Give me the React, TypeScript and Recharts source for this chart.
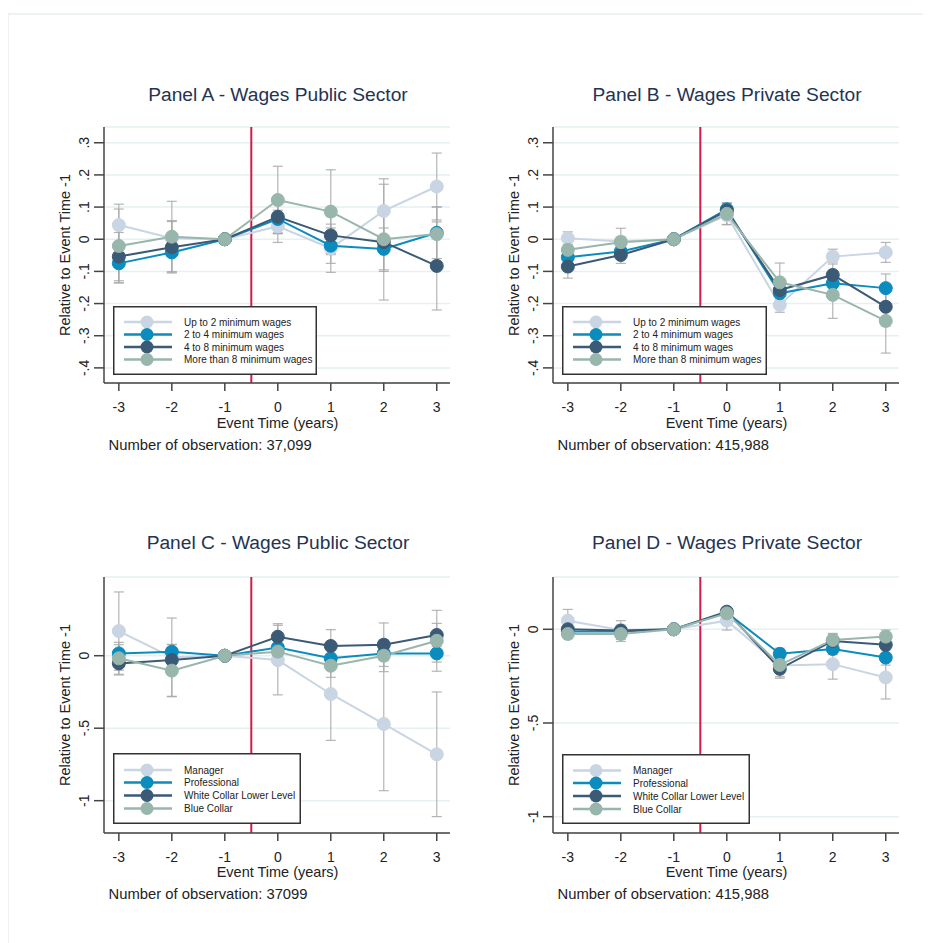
import React from 'react';
import { LineChart, Line, XAxis, YAxis, CartesianGrid, ReferenceLine, ErrorBar, Legend } from 'recharts';

// ---------- data ----------
const eventTimes = [-3, -2, -1, 0, 1, 2, 3];
const xTicks = [-3, -2, -1, 0, 1, 2, 3];
const wageTicks = [0.3, 0.2, 0.1, 0, -0.1, -0.2, -0.3, -0.4];
const occTicks = [0, -0.5, -1];

const wageGroups = ['Up to 2 minimum wages', '2 to 4 minimum wages', '4 to 8 minimum wages', 'More than 8 minimum wages'];
const occGroups = ['Manager', 'Professional', 'White Collar Lower Level', 'Blue Collar'];
const seriesColors = ['#c9d5e2', '#0b8cbf', '#3b5a75', '#98b6ac'];

const panelTitles = ['Panel A - Wages Public Sector', 'Panel B - Wages Private Sector', 'Panel C - Wages Public Sector', 'Panel D - Wages Private Sector'];
const obsNotes = ['Number of observation: 37,099', 'Number of observation: 415,988', 'Number of observation: 37099', 'Number of observation: 415,988'];

// Panel A
const aUpTo2 = [0.044, 0.003, 0, 0.040, -0.028, 0.088, 0.164];
const a2to4 = [-0.075, -0.041, 0, 0.063, -0.020, -0.030, 0.020];
const a4to8 = [-0.054, -0.025, 0, 0.070, 0.012, -0.009, -0.083];
const aMore8 = [-0.021, 0.008, 0, 0.122, 0.086, 0.000, 0.016];
const aUpTo2Ci = [0.065, 0.055, 0, 0.050, 0.075, 0.100, 0.104];
const a2to4Ci = [0.060, 0.060, 0, 0.045, 0.055, 0.065, 0.080];
const a4to8Ci = [0.075, 0.080, 0, 0.050, 0.060, 0.180, 0.137];
const aMore8Ci = [0.115, 0.110, 0, 0.105, 0.130, 0.100, 0.085];

// Panel B
const bUpTo2 = [0.003, -0.007, 0, 0.075, -0.204, -0.054, -0.041];
const b2to4 = [-0.056, -0.038, 0, 0.093, -0.168, -0.137, -0.152];
const b4to8 = [-0.085, -0.049, 0, 0.089, -0.158, -0.111, -0.210];
const bMore8 = [-0.033, -0.009, 0, 0.079, -0.134, -0.173, -0.254];
const bUpTo2Ci = [0.020, 0.015, 0, 0.030, 0.023, 0.023, 0.031];
const b2to4Ci = [0.020, 0.020, 0, 0.020, 0.030, 0.030, 0.044];
const b4to8Ci = [0.036, 0.026, 0, 0.023, 0.030, 0.040, 0.060];
const bMore8Ci = [0.030, 0.043, 0, 0.033, 0.060, 0.073, 0.100];

// Panel C
const cManager = [0.170, -0.010, 0, -0.030, -0.264, -0.471, -0.680];
const cProfessional = [0.016, 0.028, 0, 0.057, -0.018, 0.016, 0.016];
const cWhiteCollar = [-0.053, -0.030, 0, 0.131, 0.067, 0.076, 0.143];
const cBlueCollar = [-0.018, -0.103, 0, 0.028, -0.069, 0.000, 0.103];
const cManagerCi = [0.270, 0.270, 0, 0.240, 0.320, 0.460, 0.430];
const cProfessionalCi = [0.060, 0.050, 0, 0.050, 0.060, 0.050, 0.060];
const cWhiteCollarCi = [0.080, 0.070, 0, 0.090, 0.113, 0.150, 0.080];
const cBlueCollarCi = [0.110, 0.180, 0, 0.080, 0.080, 0.110, 0.210];

// Panel D
const dManager = [0.046, -0.004, 0, 0.046, -0.193, -0.186, -0.257];
const dProfessional = [-0.012, -0.012, 0, 0.089, -0.131, -0.105, -0.151];
const dWhiteCollar = [0.000, -0.007, 0, 0.094, -0.211, -0.062, -0.083];
const dBlueCollar = [-0.025, -0.025, 0, 0.085, -0.190, -0.057, -0.039];
const dManagerCi = [0.060, 0.050, 0, 0.050, 0.060, 0.080, 0.115];
const dProfessionalCi = [0.020, 0.020, 0, 0.015, 0.030, 0.030, 0.040];
const dWhiteCollarCi = [0.025, 0.030, 0, 0.020, 0.050, 0.040, 0.050];
const dBlueCollarCi = [0.025, 0.040, 0, 0.020, 0.040, 0.030, 0.035];

// ---------- styling ----------
const FONT = '"Liberation Sans", Arial, Helvetica, sans-serif';
const AXIS_COLOR = '#454545';
const TEXT_COLOR = '#222';

function stataLabel(v: number): string {
  if (v === 0) return '0';
  const abs = Math.abs(v);
  const s = abs < 1 ? String(abs).replace(/^0/, '') : String(abs);
  return (v < 0 ? '-' : '') + s;
}

const YTick = (props: any) => {
  const { x, y, payload } = props;
  const cx = x - 8;
  return (
    <text
      x={cx}
      y={y}
      transform={`rotate(-90 ${cx} ${y})`}
      textAnchor="middle"
      dominantBaseline="central"
      fontSize={14}
      fill={TEXT_COLOR}
      fontFamily={FONT}
    >
      {stataLabel(payload.value)}
    </text>
  );
};

type LegendSpec = { top: number; w: number; h: number; rows: number[] };

const LegendBox = ({ names, spec }: { names: string[]; spec: LegendSpec }) => (
  <svg width={spec.w} height={spec.h} style={{ display: 'block' }}>
    <rect x={0.75} y={0.75} width={spec.w - 1.5} height={spec.h - 1.5} fill="#fff" stroke="#333" strokeWidth={1.5} />
    {names.map((n, i) => (
      <g key={n}>
        <line x1={11} x2={59} y1={spec.rows[i]} y2={spec.rows[i]} stroke={seriesColors[i]} strokeWidth={2.5} />
        <circle cx={34} cy={spec.rows[i]} r={6.5} fill={seriesColors[i]} />
        <text x={71} y={spec.rows[i] + 3.6} fontSize={10} fill={TEXT_COLOR} fontFamily={FONT}>
          {n}
        </text>
      </g>
    ))}
  </svg>
);

type PanelProps = {
  left: number;
  top: number;
  series: number[][];
  cis: number[][];
  names: string[];
  yDomain: [number, number];
  yTicks: number[];
  legend: LegendSpec;
};

function Panel({ left, top, series, cis, names, yDomain, yTicks, legend }: PanelProps) {
  const data = eventTimes.map((t, i) => {
    const row: any = { t };
    series.forEach((s, k) => {
      row['v' + k] = s[i];
      row['e' + k] = cis[k][i];
    });
    return row;
  });
  return (
    <div style={{ position: 'absolute', left, top }}>
      <LineChart width={430} height={350} data={data} margin={{ top: 17, right: 20, bottom: 0, left: 0 }}>
        <CartesianGrid horizontal vertical={false} stroke="#e6eff1" strokeWidth={1.5} />
        <XAxis
          dataKey="t"
          type="number"
          domain={[-3.28, 3.25]}
          ticks={xTicks}
          allowDataOverflow
          interval={0}
          height={77}
          tickSize={8}
          tickMargin={11}
          stroke={AXIS_COLOR}
          strokeWidth={1.5}
          tick={{ fontSize: 14, fill: TEXT_COLOR, fontFamily: FONT }}
        />
        <YAxis
          type="number"
          domain={yDomain}
          ticks={yTicks}
          allowDataOverflow
          interval={0}
          width={64}
          tickSize={10}
          tickMargin={2}
          stroke={AXIS_COLOR}
          strokeWidth={1.5}
          tick={<YTick />}
        />
        <ReferenceLine x={-0.5} stroke="#d11b4b" strokeWidth={2} />
        {series.map((_, k) => (
          <Line
            key={'err' + k}
            dataKey={'v' + k}
            stroke="none"
            dot={false}
            activeDot={false}
            legendType="none"
            isAnimationActive={false}
          >
            <ErrorBar dataKey={'e' + k} width={5} stroke="#a8a8a8" strokeWidth={1.2} strokeOpacity={0.85} direction="y" />
          </Line>
        ))}
        {series.map((_, k) => (
          <Line
            key={'line' + k}
            dataKey={'v' + k}
            name={names[k]}
            stroke={seriesColors[k]}
            strokeWidth={2}
            dot={{ r: 6.5, fill: seriesColors[k], stroke: seriesColors[k], strokeWidth: 1 }}
            activeDot={false}
            isAnimationActive={false}
          />
        ))}
        <Legend
          layout="horizontal"
          verticalAlign="middle"
          align="center"
          wrapperStyle={{ left: 73, top: legend.top, width: legend.w, height: legend.h }}
          content={() => <LegendBox names={names} spec={legend} />}
        />
      </LineChart>
    </div>
  );
}

const panelOrigins = [
  { left: 40, top: 110 },
  { left: 489, top: 110 },
  { left: 40, top: 560 },
  { left: 489, top: 560 },
];

export default function App() {
  const rowShift = 448.5;
  const colShift = 449;
  return (
    <div style={{ position: 'relative', width: 931, height: 943, marginLeft: -8, marginTop: -8, background: '#fff', fontFamily: FONT }}>
      <svg width={931} height={943} style={{ position: 'absolute', left: 0, top: 0 }}>
        <line x1={7} x2={931} y1={14} y2={14} stroke="#edf2f4" strokeWidth={2} />
        <line x1={8} x2={8} y1={14} y2={943} stroke="#edf2f4" strokeWidth={2} />
        {[0, 1, 2, 3].map((p) => {
          const dx = (p % 2) * colShift;
          const dy = Math.floor(p / 2) * rowShift;
          const yc = 255 + Math.floor(p / 2) * 450;
          return (
            <g key={p}>
              <text x={278 + dx} y={100.6 + dy} textAnchor="middle" fontSize={19.2} fill="#243352" fontFamily={FONT}>
                {panelTitles[p]}
              </text>
              <text x={277.5 + dx} y={428 + dy} textAnchor="middle" fontSize={14.5} fill={TEXT_COLOR} fontFamily={FONT}>
                Event Time (years)
              </text>
              <text x={108.5 + dx} y={450 + dy} fontSize={14.8} fill={TEXT_COLOR} fontFamily={FONT}>
                {obsNotes[p]}
              </text>
              <text
                x={70 + dx}
                y={yc}
                transform={`rotate(-90 ${70 + dx} ${yc})`}
                textAnchor="middle"
                fontSize={14.5}
                fill={TEXT_COLOR}
                fontFamily={FONT}
              >
                Relative to Event Time -1
              </text>
            </g>
          );
        })}
      </svg>
      <Panel
        {...panelOrigins[0]}
        series={[aUpTo2, a2to4, a4to8, aMore8]}
        cis={[aUpTo2Ci, a2to4Ci, a4to8Ci, aMore8Ci]}
        names={wageGroups}
        yDomain={[-0.447, 0.349]}
        yTicks={wageTicks}
        legend={{ top: 196, w: 204, h: 69, rows: [16, 28.5, 41, 53.5] }}
      />
      <Panel
        {...panelOrigins[1]}
        series={[bUpTo2, b2to4, b4to8, bMore8]}
        cis={[bUpTo2Ci, b2to4Ci, b4to8Ci, bMore8Ci]}
        names={wageGroups}
        yDomain={[-0.447, 0.349]}
        yTicks={wageTicks}
        legend={{ top: 196, w: 205, h: 69, rows: [16, 28.5, 41, 53.5] }}
      />
      <Panel
        {...panelOrigins[2]}
        series={[cManager, cProfessional, cWhiteCollar, cBlueCollar]}
        cis={[cManagerCi, cProfessionalCi, cWhiteCollarCi, cBlueCollarCi]}
        names={occGroups}
        yDomain={[-1.223, 0.543]}
        yTicks={occTicks}
        legend={{ top: 193, w: 188, h: 71, rows: [17, 29.5, 42.5, 55.5] }}
      />
      <Panel
        {...panelOrigins[3]}
        series={[dManager, dProfessional, dWhiteCollar, dBlueCollar]}
        cis={[dManagerCi, dProfessionalCi, dWhiteCollarCi, dBlueCollarCi]}
        names={occGroups}
        yDomain={[-1.087, 0.279]}
        yTicks={occTicks}
        legend={{ top: 194, w: 188, h: 70, rows: [16.5, 29, 42, 55] }}
      />
    </div>
  );
}
